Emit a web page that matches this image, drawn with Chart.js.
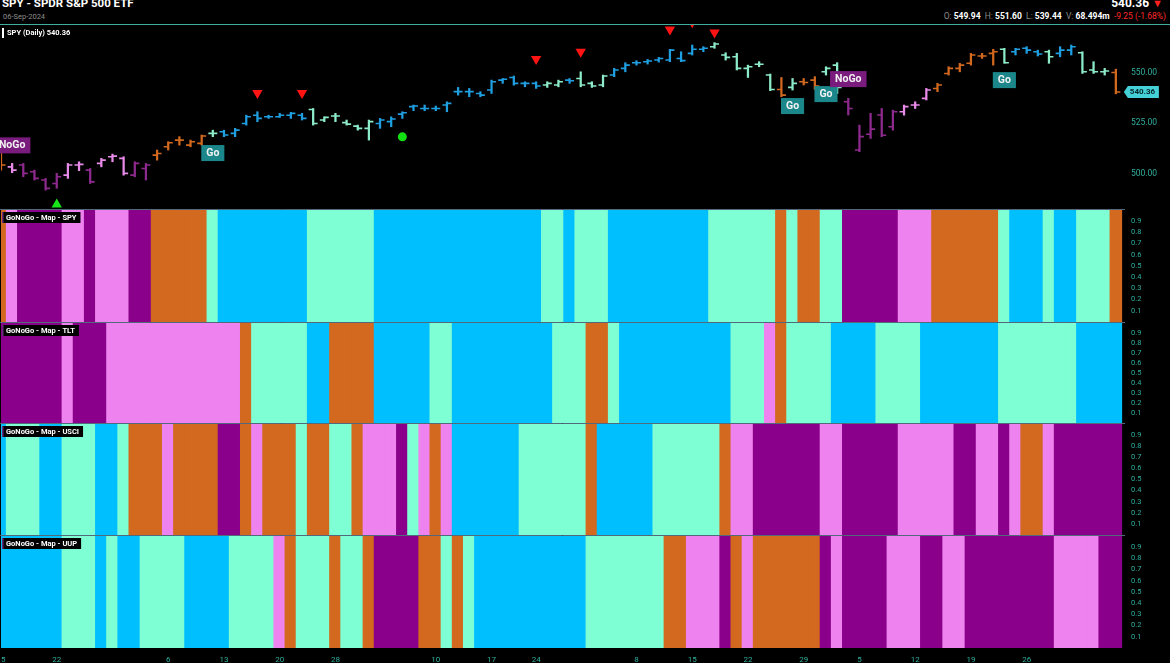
<!DOCTYPE html>
<html>
<head>
<meta charset="utf-8">
<script src="https://cdn.jsdelivr.net/npm/chart.js@4.4.1/dist/chart.umd.min.js"></script>
<style>
  html, body { margin:0; padding:0; background:#000; width:1170px; height:663px; overflow:hidden; font-family: Roboto, "Liberation Sans", sans-serif; }
  #wrap { position:relative; width:1170px; height:663px; }
  .abs { position:absolute; white-space:nowrap; }
  canvas { position:absolute; left:0; }
  #title { left:2px; top:-4px; color:#fff; font-weight:bold; font-size:11.5px; }
  #date { left:3px; top:12px; color:#8c8c8c; font-size:7.5px; }
  #rule { left:0; top:24px; width:1170px; height:1px; background:#3fae9f; }
  #last { right:7px; top:-4px; color:#fff; font-weight:bold; font-size:12px; }
  #last span { color:#ff2020; font-size:11px; }
  #quote { right:4px; top:11px; color:#fff; font-size:8.5px; font-weight:bold; }
  #quote .k { color:#8a8a8a; font-weight:normal; }
  #quote .chg { color:#ff2a2a; font-weight:normal; }
  #legend { left:7px; top:28px; color:#fff; font-weight:bold; font-size:7.5px; z-index:5; }
  #legend i { position:absolute; left:-5px; top:0px; width:2px; height:10px; background:#fff; }
</style>
</head>
<body>
<div id="wrap">
  <div class="abs" id="title">SPY - SPDR S&amp;P 500 ETF</div>
  <div class="abs" id="date">06-Sep-2024</div>
  <div class="abs" id="last">540.36 <span>&#9660;</span></div>
  <div class="abs" id="quote"><span class="k">O:</span> 549.94 &nbsp;<span class="k">H:</span> 551.60 &nbsp;<span class="k">L:</span> 539.44 &nbsp;<span class="k">V:</span> 68.494m &nbsp;<span class="chg">-9.25 (-1.68%)</span></div>
  <div class="abs" id="rule"></div>
  <canvas id="price" width="1170" height="184" style="top:25px"></canvas>
  <canvas id="mapSPY" width="1170" height="113" style="top:209px"></canvas>
  <canvas id="mapTLT" width="1170" height="101" style="top:322px"></canvas>
  <canvas id="mapUSCI" width="1170" height="112" style="top:423px"></canvas>
  <canvas id="mapUUP" width="1170" height="128" style="top:535px"></canvas>
  <div class="abs" id="legend"><i></i>SPY (Daily) 540.36</div>
</div>
<script>
// daily bars, 15-Apr-2024 .. 06-Sep-2024
const openPx = [513.3,503.4,504.3,501.0,496.9,495.2,499.3,504.3,501.8,505.1,
  508.4,507.6,499.3,502.6,509.2,513.3,516.6,514.1,515.0,519.9,
  520.7,519.9,524.8,528.9,528.1,528.1,528.9,528.9,531.7,526.5,
  528.5,525.2,523.5,522.4,524.8,525.7,529.4,533.1,532.2,532.2,
  533.9,540.5,540.5,539.6,541.3,546.2,547.5,544.6,544.6,543.8,
  543.8,546.2,547.0,544.6,543.8,548.7,552.0,554.8,555.3,556.1,
  556.1,556.9,559.4,561.4,562.7,558.6,557.7,552.0,554.0,548.7,
  541.6,542.6,545.4,546.2,550.3,553.6,535.5,511.7,519.5,529.0,
  523.2,530.6,533.9,537.2,542.1,549.5,552.0,554.5,558.1,559.4,
  561.4,560.2,561.9,560.2,560.2,559.4,561.0,559.7,551.2,550.3,549.94];
const highPx = [514.1,505.1,505.1,501.8,497.7,500.2,505.1,505.9,502.6,507.6,
  509.7,508.4,505.9,505.1,511.7,515.8,518.3,516.6,519.1,521.5,
  521.5,522.4,528.9,530.6,528.9,529.8,530.3,529.8,532.2,528.1,
  529.8,526.5,524.0,526.5,527.3,528.1,530.6,533.9,533.9,533.4,
  535.5,542.6,542.1,540.5,546.2,547.0,548.2,545.4,545.4,545.4,
  546.2,547.0,550.3,545.4,548.7,552.0,554.8,555.8,556.4,557.4,
  561.4,560.2,563.5,562.7,564.7,559.7,559.4,553.6,555.3,549.2,
  547.5,547.0,547.0,547.9,552.8,554.8,537.2,524.0,529.8,532.2,
  531.4,533.9,535.5,542.1,544.6,552.8,554.5,559.4,559.4,561.4,
  561.9,561.9,562.7,561.0,561.0,562.7,563.5,560.2,555.3,552.0,551.60];
const lowPx = [501.8,500.5,498.5,496.9,491.9,492.8,497.7,501.5,495.2,503.4,
  505.9,499.3,498.5,496.9,506.7,511.7,514.1,513.3,514.1,518.3,
  518.3,518.3,524.0,525.7,527.3,527.8,527.3,526.5,524.0,525.7,
  525.7,524.0,521.5,516.6,522.4,523.2,527.3,531.1,531.1,531.1,
  530.6,538.8,538.0,538.0,539.6,544.6,543.7,542.9,542.1,542.6,
  542.9,544.6,542.9,542.6,542.9,547.9,550.3,553.6,554.1,555.1,
  555.3,555.3,558.6,560.2,561.9,556.1,551.2,547.5,552.8,541.0,
  538.0,541.3,543.8,541.6,548.7,539.6,529.0,510.9,517.4,518.3,
  521.5,528.9,532.2,536.4,540.5,548.7,550.3,553.6,556.9,553.6,
  554.5,558.6,559.4,558.1,554.5,557.7,558.6,549.5,549.5,548.7,539.44];
const closePx = [504.3,501.8,500.2,497.7,492.8,498.5,504.3,504.6,496.0,506.7,
  508.7,500.2,505.1,504.3,510.0,515.3,516.6,515.8,518.6,519.9,
  519.1,521.5,528.1,527.3,528.1,528.9,529.8,527.3,524.8,527.8,
  528.5,524.5,522.4,525.7,526.5,527.0,530.1,533.4,532.2,532.2,
  534.7,540.5,540.5,538.8,545.4,546.6,544.6,544.6,543.3,544.6,
  545.4,545.9,543.8,543.3,548.2,551.2,553.6,554.8,555.6,556.9,
  561.0,555.8,561.4,561.9,564.0,557.4,552.0,552.8,554.0,541.6,
  538.8,544.6,545.0,543.3,552.0,542.6,532.2,518.3,522.0,519.0,
  530.6,533.1,533.9,541.3,543.8,552.0,553.6,558.6,558.1,560.2,
  554.8,561.4,561.0,559.1,557.7,561.0,562.7,550.3,550.3,550.7,540.36];

// x-axis labels (first session of each week)
const tickIdx = [0,5,15,20,25,30,39,44,48,57,62,67,72,77,82,87,92];
const tickTxt = ['15','22','6','13','20','28','10','17','24','8','15','22','29','5','12','19','26'];
const priceTicks = [500, 525, 550];

// signals
const sellIdx = [23,27,48,52,60,62,64];
const sellPx  = [539.8,539.8,556.6,560.2,571.2,574.8,569.7];
const buyIdx = [5];
const buyPx  = [484.8];
const dotIdx = [36];
const dotPx  = [518.2];
const tagIdx  = [1,19,71,74,76,90];
const tagPx   = [514.0,510.2,533.4,539.3,546.7,546.2];
const tagText = ['NoGo','Go','Go','Go','NoGo','Go'];

// GoNoGo map colour runs: [state, number of bars]
const spyRuns = [['O',1],['P',1],['U',4],['P',2],['U',1],['P',3],['U',2],['O',5],['A',1],['B',8],['A',6],['B',15],['A',2],['B',1],['A',3],['B',9],['A',6],['O',1],['A',1],['O',2],['A',2],['U',5],['P',3],['O',6],['A',1],['B',3],['A',1],['B',2],['A',3],['O',1]];
const tltRuns = [['U',6],['P',1],['U',3],['P',12],['O',1],['A',5],['B',2],['O',4],['B',5],['A',2],['B',9],['A',3],['O',2],['A',1],['B',10],['A',3],['P',1],['O',1],['A',4],['B',4],['A',4],['B',7],['A',7],['B',4]];
const usciRuns = [['B',1],['A',3],['B',2],['A',3],['B',2],['A',1],['O',3],['P',1],['O',4],['U',2],['O',1],['P',1],['O',3],['A',1],['O',2],['A',2],['O',1],['P',3],['U',1],['A',1],['P',1],['O',1],['P',1],['B',6],['A',6],['O',1],['B',5],['A',6],['O',1],['P',2],['U',6],['P',2],['U',5],['P',5],['U',2],['P',2],['U',1],['P',1],['O',2],['P',1],['U',6]];
const uupRuns = [['B',6],['A',3],['B',1],['A',1],['B',2],['A',4],['B',4],['A',4],['P',1],['O',1],['A',3],['O',1],['A',2],['O',1],['U',4],['O',2],['A',1],['O',1],['A',1],['B',10],['A',7],['O',2],['P',3],['U',1],['O',1],['P',1],['O',6],['U',1],['P',1],['U',4],['P',3],['U',2],['P',2],['U',8],['P',4],['U',2]];

const mapColors = { B:'#00BFFF', A:'#7FFFD4', O:'#D2691E', P:'#EE82EE', U:'#8B008B' };
const barColors = { B:'#1F9EE0', A:'#8CEBC8', O:'#D2691E', P:'#E88AE8', U:'#8E2A8E' };
const teal = '#2fae9c';

function expand(runs) {
  return runs.flatMap(r => Array(r[1]).fill(r[0]));
}
const spyCodes = expand(spyRuns);
// one spare slot after the last session so the last bar is not cut
const xSlots = openPx.map((v, i) => i).concat([openPx.length]);

// keep the plot areas flush with the canvas edges
function noPad(s) {
  s.paddingTop = 0; s.paddingBottom = 0; s.paddingLeft = 0; s.paddingRight = 0;
}

const ohlcTicks = {
  id: 'ohlcTicks',
  afterDatasetsDraw(chart) {
    const { ctx, chartArea, scales: { x, y } } = chart;
    ctx.save();
    ctx.beginPath();
    ctx.rect(chartArea.left, chartArea.top, chartArea.width, chartArea.height);
    ctx.clip();
    ctx.lineWidth = 1.6;
    for (let i = 0; i < openPx.length; i++) {
      const px = x.getPixelForValue(i);
      const yo = y.getPixelForValue(openPx[i]);
      const yc = y.getPixelForValue(closePx[i]);
      ctx.strokeStyle = barColors[spyCodes[i]];
      ctx.beginPath();
      ctx.moveTo(px - 4.5, yo); ctx.lineTo(px, yo);
      ctx.moveTo(px, yc); ctx.lineTo(px + 4.5, yc);
      ctx.stroke();
    }
    ctx.restore();
  }
};

const priceDecor = {
  id: 'priceDecor',
  afterDraw(chart) {
    const { ctx, scales: { x, y } } = chart;
    ctx.save();
    ctx.font = 'bold 10.5px Roboto';
    ctx.textAlign = 'center';
    ctx.textBaseline = 'middle';
    tagText.forEach((t, k) => {
      const cx = x.getPixelForValue(tagIdx[k]);
      const cy = y.getPixelForValue(tagPx[k]);
      const w = ctx.measureText(t).width + 10, h = 16;
      ctx.fillStyle = t === 'Go' ? '#1b878b' : '#7a1c7e';
      ctx.fillRect(cx - w / 2, cy - h / 2, w, h);
      ctx.fillStyle = '#f2f2f2';
      ctx.fillText(t, cx, cy + 0.5);
    });
    const last = closePx[closePx.length - 1];
    const ly = y.getPixelForValue(last);
    const lx = x.getPixelForValue(openPx.length - 1) + 8;
    ctx.fillStyle = '#45cfd6';
    ctx.beginPath();
    ctx.moveTo(lx, ly);
    ctx.lineTo(lx + 4, ly - 6);
    ctx.lineTo(lx + 35, ly - 6);
    ctx.lineTo(lx + 35, ly + 6);
    ctx.lineTo(lx + 4, ly + 6);
    ctx.closePath();
    ctx.fill();
    ctx.fillStyle = '#06282a';
    ctx.font = 'bold 8px Roboto';
    ctx.textAlign = 'left';
    ctx.fillText(last.toFixed(2), lx + 6, ly + 0.5);
    ctx.restore();
  }
};

new Chart(document.getElementById('price'), {
  type: 'bar',
  data: {
    labels: xSlots,
    datasets: [
      { type: 'line', data: sellIdx.map((v, k) => ({ x: v, y: sellPx[k] })), showLine: false,
        pointStyle: 'triangle', rotation: 180, pointRadius: 6, pointBackgroundColor: '#ff1414', pointBorderWidth: 0, clip: 0 },
      { type: 'line', data: buyIdx.map((v, k) => ({ x: v, y: buyPx[k] })), showLine: false,
        pointStyle: 'triangle', pointRadius: 6, pointBackgroundColor: '#19e619', pointBorderWidth: 0, clip: 0 },
      { type: 'line', data: dotIdx.map((v, k) => ({ x: v, y: dotPx[k] })), showLine: false,
        pointStyle: 'circle', pointRadius: 4.5, pointBackgroundColor: '#13e013', pointBorderWidth: 0, clip: 0 },
      { data: lowPx.map((l, i) => [l, highPx[i]]), backgroundColor: spyCodes.map(c => barColors[c]),
        barThickness: 1.6, borderWidth: 0 }
    ]
  },
  options: {
    responsive: false, animation: false,
    layout: { padding: { left: 1, right: 0, top: 0, bottom: 0 }, autoPadding: false },
    plugins: { legend: { display: false }, tooltip: { enabled: false } },
    scales: {
      x: { type: 'category', offset: false, grid: { offset: false, display: false }, display: false },
      y: {
        position: 'right', min: 482.6, max: 573.4, beginAtZero: false,
        grid: { display: false, drawTicks: false }, border: { display: false },
        afterBuildTicks: a => { a.ticks = priceTicks.map(v => ({ value: v })); },
        afterFit: s => { s.width = 43; noPad(s); },
        ticks: { color: teal, padding: 4, font: { size: 8.5, family: 'Roboto' }, callback: v => Number(v).toFixed(2) }
      }
    }
  },
  plugins: [ohlcTicks, priceDecor]
});

const panelDecor = {
  id: 'panelDecor',
  afterDraw(chart) {
    const { ctx, chartArea } = chart;
    ctx.save();
    ctx.strokeStyle = '#52697c';
    ctx.lineWidth = 1;
    ctx.beginPath();
    ctx.moveTo(0, chartArea.top - 0.5);
    ctx.lineTo(1125, chartArea.top - 0.5);
    ctx.stroke();
    const name = chart.options.plugins.panelDecor.name;
    ctx.font = 'bold 7.5px Roboto';
    const w = ctx.measureText(name).width + 8;
    ctx.fillStyle = '#000';
    ctx.fillRect(2, chartArea.top + 2, w, 11);
    ctx.fillStyle = '#6a2a7a';
    ctx.fillRect(2, chartArea.top + 2, 1.5, 11);
    ctx.fillStyle = '#fff';
    ctx.textBaseline = 'middle';
    ctx.fillText(name, 6, chartArea.top + 7.8);
    ctx.restore();
  }
};

function drawMap(id, runs, name, showX) {
  const codes = expand(runs);
  const xAxis = {
    type: 'category', offset: false, display: showX,
    grid: { offset: false, display: false, drawTicks: false }, border: { display: false },
    ticks: { color: teal, padding: 7, maxRotation: 0, autoSkip: false, font: { size: 8, family: 'Roboto' },
      callback: (v, i) => { const k = tickIdx.indexOf(i); return k < 0 ? '' : tickTxt[k]; } }
  };
  xAxis.afterFit = s => { if (showX) s.height = 15; noPad(s); };
  new Chart(document.getElementById(id), {
    type: 'bar',
    data: {
      labels: xSlots,
      datasets: [{
        data: codes.map(() => 1),
        backgroundColor: codes.map(c => mapColors[c]),
        borderWidth: 0, barPercentage: 1, categoryPercentage: 1, inflateAmount: 0.7
      }]
    },
    options: {
      responsive: false, animation: false,
      layout: { padding: { left: 1, right: 0, top: 1, bottom: 0 }, autoPadding: false },
      plugins: { legend: { display: false }, tooltip: { enabled: false }, panelDecor: { name: name } },
      scales: {
        x: xAxis,
        y: {
          position: 'right', min: 0, max: 1, beginAtZero: false,
          grid: { display: false, drawTicks: false }, border: { display: false },
          afterFit: s => { s.width = 43; noPad(s); },
          ticks: { stepSize: 0.1, autoSkip: false, color: teal, padding: 4, font: { size: 7.5, family: 'Roboto' },
            callback: v => { const r = Math.round(v * 10); return r > 0 && r < 10 ? (r / 10).toFixed(1) : ''; } }
        }
      }
    },
    plugins: [panelDecor]
  });
}

drawMap('mapSPY', spyRuns, 'GoNoGo - Map - SPY', false);
drawMap('mapTLT', tltRuns, 'GoNoGo - Map - TLT', false);
drawMap('mapUSCI', usciRuns, 'GoNoGo - Map - USCI', false);
drawMap('mapUUP', uupRuns, 'GoNoGo - Map - UUP', true);
</script>
</body>
</html>
